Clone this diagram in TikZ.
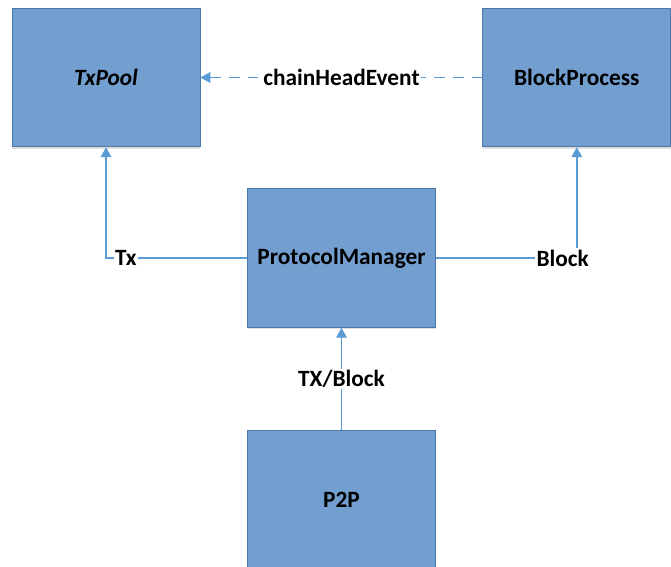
\documentclass[tikz,border=0pt]{standalone}
\usepackage{fontspec}
\setmainfont{Carlito}
\usepackage{tikz}
\usetikzlibrary{arrows.meta,positioning,shadows}
\definecolor{box-fill}{HTML}{729FCF}
\definecolor{box-line}{HTML}{4A78A8}
\definecolor{link}{HTML}{5B9BD5}

\begin{document}
\begin{tikzpicture}[x=0.75pt, y=-0.75pt, font=\bfseries\fontsize{17.5pt}{21pt}\selectfont,
    main/.style={rectangle, draw=box-line, line width=0.6pt, fill=box-fill, minimum width=141pt, minimum height=104pt,
        drop shadow={shadow xshift=0pt, shadow yshift=-1.5pt, opacity=0.25}},
    link/.style={draw=link, line width=1.1pt, -{Triangle[width=8pt,length=7.5pt]}},
    tag/.style={fill=white, inner sep=1pt}]
    \useasboundingbox (0,0) rectangle (671,567);

    \node[main] (pool) at (106,77.5) {\itshape TxPool};
    \node[main] (block) [right=211.5pt of pool] {BlockProcess};
    \node[main] (pm) at (341.5,258) {ProtocolManager};
    \node[main] (p2p) [below=76.5pt of pm] {P2P};

    \draw[link, dash pattern=on 8pt off 6pt] (block) -- (pool) node[tag, midway] {chainHeadEvent};
    \draw[link] (pm.west) -| (pool.south) node[tag, pos=0.43] {Tx};
    \draw[link] (pm.east) -| (block.south) node[tag, pos=0.45] {Block};
    \draw[link] (p2p) -- (pm) node[tag, midway] {TX/Block};

\end{tikzpicture}
\end{document}
